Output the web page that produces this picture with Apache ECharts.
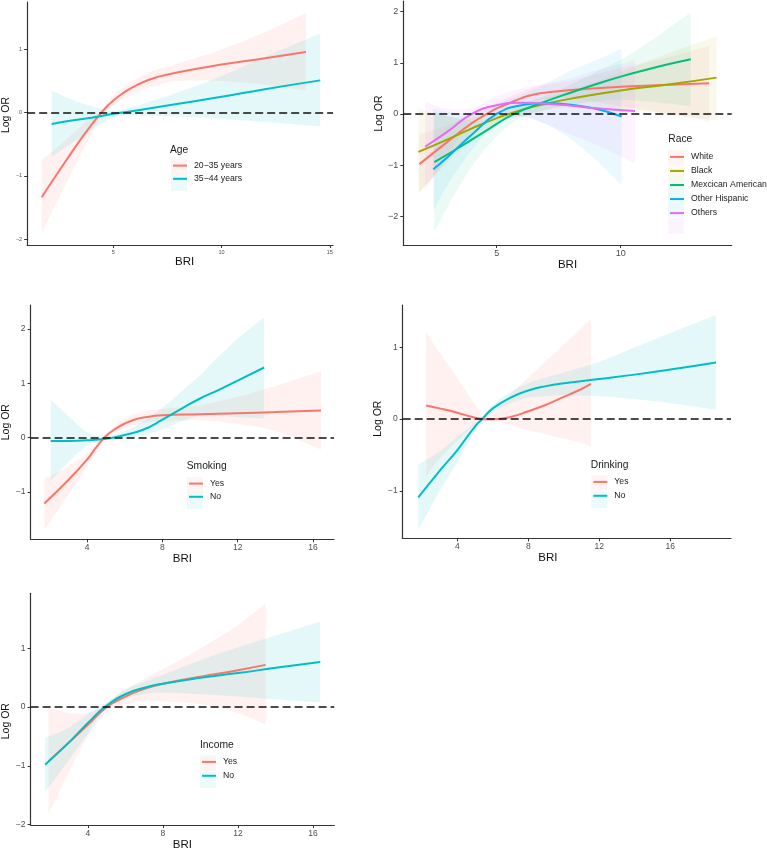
<!DOCTYPE html>
<html><head><meta charset="utf-8">
<script src="https://cdn.jsdelivr.net/npm/echarts@6/dist/echarts.min.js"></script>
<style>html,body{margin:0;padding:0;background:#fff}#c{width:767px;height:852px}</style>
</head><body><div id="c"></div>
<script>
// ---------------- DATA ----------------
// Panel 1: Age
const ageNames = ['20\u221235 years', '35\u221244 years'];
const age1X   = [1.69, 2.5, 3.5, 4.0, 4.5, 5, 5.5, 6, 6.5, 7, 8, 10, 12, 13.9];
const age1Fit = [-1.34, -0.92, -0.42, -0.19, 0.02, 0.19, 0.32, 0.42, 0.5, 0.56, 0.64, 0.76, 0.86, 0.96];
const age1Lo  = [-1.9, -1.34, -0.66, -0.33, -0.04, 0.11, 0.22, 0.31, 0.38, 0.43, 0.5, 0.5, 0.44, 0.35];
const age1Hi  = [-0.75, -0.52, -0.22, -0.08, 0.07, 0.27, 0.41, 0.52, 0.61, 0.68, 0.78, 1.0, 1.27, 1.58];
const age2X   = [2.15, 3, 4, 5, 6, 8, 10, 12, 14.56];
const age2Fit = [-0.18, -0.13, -0.08, -0.02, 0.03, 0.14, 0.25, 0.37, 0.51];
const age2Lo  = [-0.7, -0.5, -0.27, -0.08, -0.05, -0.06, -0.1, -0.15, -0.22];
const age2Hi  = [0.35, 0.22, 0.1, 0.03, 0.1, 0.32, 0.58, 0.88, 1.25];

// Panel 2: Race
const raceNames = ['White', 'Black', 'Mexcican American', 'Other Hispanic', 'Others'];
const whiteX   = [1.88, 3, 4, 4.6, 5, 5.5, 6, 6.5, 7, 8, 10, 12, 13.57];
const whiteFit = [-0.98, -0.55, -0.18, 0, 0.11, 0.21, 0.31, 0.38, 0.42, 0.47, 0.53, 0.57, 0.6];
const whiteLo  = [-1.55, -0.9, -0.35, -0.1, 0.0, 0.1, 0.19, 0.25, 0.29, 0.3, 0.15, 0.0, -0.15];
const whiteHi  = [-0.4, -0.22, -0.02, 0.1, 0.22, 0.33, 0.44, 0.52, 0.57, 0.65, 0.9, 1.12, 1.33];
const blackX   = [1.84, 3, 4, 5, 5.5, 6, 7, 8, 10, 12, 13.87];
const blackFit = [-0.74, -0.5, -0.28, -0.08, 0, 0.08, 0.2, 0.3, 0.46, 0.58, 0.71];
const blackLo  = [-1.55, -0.95, -0.5, -0.2, -0.1, -0.05, 0.08, 0.12, 0.1, -0.02, -0.12];
const blackHi  = [0.1, -0.05, -0.07, 0.04, 0.1, 0.2, 0.33, 0.47, 0.82, 1.2, 1.52];
const mexX     = [2.48, 3.5, 4.5, 5.7, 7, 8, 9, 10, 11, 12, 12.83];
const mexFit   = [-0.94, -0.65, -0.35, 0, 0.25, 0.42, 0.58, 0.73, 0.86, 0.98, 1.07];
const mexLo    = [-2.3, -1.4, -0.7, -0.15, 0.08, 0.18, 0.25, 0.28, 0.25, 0.2, 0.15];
const mexHi    = [0.05, -0.1, -0.12, 0.15, 0.36, 0.58, 0.82, 1.06, 1.36, 1.7, 1.98];
const ohX      = [2.44, 3, 4, 5, 6, 7, 8, 9, 10.04];
const ohFit    = [-1.08, -0.85, -0.4, 0, 0.17, 0.21, 0.18, 0.1, -0.05];
const ohLo     = [-1.9, -1.4, -0.7, -0.2, -0.05, -0.2, -0.5, -0.9, -1.39];
const ohHi     = [0.1, 0.05, 0.0, 0.2, 0.38, 0.6, 0.85, 1.05, 1.28];
const othX     = [2.11, 3, 4, 5, 6, 7, 8, 9, 10.58];
const othFit   = [-0.64, -0.35, 0, 0.17, 0.22, 0.2, 0.16, 0.11, 0.06];
const othLo    = [-1.5, -0.8, -0.15, 0.0, -0.05, -0.2, -0.4, -0.6, -0.96];
const othHi    = [0.25, 0.1, 0.12, 0.35, 0.5, 0.6, 0.7, 0.85, 1.05];

// Panel 3: Smoking
const ynNames = ['Yes', 'No'];
const smkYesX   = [1.72, 3, 4, 4.5, 5, 5.5, 6, 6.5, 7, 8, 10, 12, 14, 16.43];
const smkYesFit = [-1.21, -0.78, -0.4, -0.17, 0.03, 0.16, 0.26, 0.33, 0.37, 0.41, 0.43, 0.45, 0.47, 0.5];
const smkYesLo  = [-1.7, -1.05, -0.53, -0.25, -0.02, 0.09, 0.17, 0.23, 0.27, 0.3, 0.32, 0.25, 0.12, -0.22];
const smkYesHi  = [-0.75, -0.53, -0.28, -0.1, 0.08, 0.23, 0.35, 0.43, 0.48, 0.53, 0.6, 0.75, 0.95, 1.22];
const smkNoX    = [2.06, 3, 4, 5, 6, 7, 8, 9, 10, 11, 12, 13.41];
const smkNoFit  = [-0.06, -0.06, -0.05, -0.02, 0.05, 0.15, 0.33, 0.53, 0.72, 0.88, 1.05, 1.29];
const smkNoLo   = [-0.8, -0.45, -0.15, -0.05, -0.03, 0.05, 0.15, 0.3, 0.4, 0.4, 0.38, 0.35];
const smkNoHi   = [0.7, 0.4, 0.1, 0.02, 0.12, 0.3, 0.55, 0.85, 1.15, 1.5, 1.82, 2.22];

// Panel 4: Drinking
const drkYesX   = [2.24, 3, 4, 5, 5.5, 6, 7, 8, 9, 10, 11, 11.52];
const drkYesFit = [0.19, 0.15, 0.09, 0.02, 0.0, 0.0, 0.03, 0.11, 0.2, 0.31, 0.42, 0.49];
const drkYesLo  = [-0.8, -0.55, -0.3, -0.08, -0.02, -0.03, -0.08, -0.15, -0.21, -0.27, -0.33, -0.38];
const drkYesHi  = [1.2, 0.93, 0.57, 0.2, 0.03, 0.12, 0.35, 0.58, 0.81, 1.04, 1.27, 1.4];
const drkNoX    = [1.8, 3, 4, 5, 5.4, 6, 7, 8, 9, 10, 12, 14, 16, 18.57];
const drkNoFit  = [-1.09, -0.72, -0.43, -0.1, 0, 0.15, 0.3, 0.4, 0.46, 0.5, 0.56, 0.62, 0.69, 0.79];
const drkNoLo   = [-1.55, -1.0, -0.6, -0.15, -0.03, 0.1, 0.22, 0.3, 0.32, 0.33, 0.32, 0.28, 0.22, 0.13];
const drkNoHi   = [-0.63, -0.45, -0.25, -0.05, 0.03, 0.2, 0.38, 0.5, 0.58, 0.65, 0.8, 1.0, 1.2, 1.45];

// Panel 5: Income
const incYesX   = [1.91, 3, 4, 5, 6, 7, 8, 10, 12, 13.47];
const incYesFit = [-0.92, -0.6, -0.3, 0, 0.18, 0.31, 0.4, 0.52, 0.63, 0.72];
const incYesLo  = [-1.82, -1.1, -0.5, -0.08, 0.05, 0.1, 0.1, 0.05, -0.1, -0.3];
const incYesHi  = [0.0, -0.1, -0.1, 0.08, 0.3, 0.48, 0.65, 1.0, 1.4, 1.77];
const incNoX    = [1.72, 3, 4, 4.9, 6, 7, 8, 10, 12, 14, 16.38];
const incNoFit  = [-0.98, -0.6, -0.27, 0, 0.22, 0.33, 0.4, 0.5, 0.58, 0.67, 0.77];
const incNoLo   = [-1.45, -0.9, -0.45, -0.05, 0.14, 0.22, 0.25, 0.22, 0.18, 0.13, 0.08];
const incNoHi   = [-0.52, -0.35, -0.12, 0.05, 0.3, 0.43, 0.55, 0.8, 1.02, 1.22, 1.46];

// Tick labels
const xTicks1 = [5, 10, 15];
const yTicks1 = [-2, -1, 0, 1];
const xTicks2 = [5, 10];
const yTicks2 = [-2, -1, 0, 1, 2];
const xTicks3 = [4, 8, 12, 16];
const yTicks3 = [-1, 0, 1, 2];
const xTicks4 = [4, 8, 12, 16];
const yTicks4 = [-1, 0, 1];
const xTicks5 = [4, 8, 12, 16];
const yTicks5 = [-2, -1, 0, 1];

// ---------------- STYLE ----------------
const C_RED = '#F8766D', C_TEAL = '#00BFC4';
const RACE_COLORS = ['#F8766D', '#A3A500', '#00BF7D', '#00B0F6', '#E76BF3'];
const FONT = 'Liberation Sans, Arial, Helvetica, sans-serif';

function hexA(hex, a) {
  const n = parseInt(hex.slice(1), 16);
  return 'rgba(' + (n >> 16 & 255) + ',' + (n >> 8 & 255) + ',' + (n & 255) + ',' + a + ')';
}
function spline(pts) {
  let d = '';
  const n = pts.length;
  for (let i = 0; i < n - 1; i++) {
    const p0 = pts[Math.max(i - 1, 0)], p1 = pts[i], p2 = pts[i + 1], p3 = pts[Math.min(i + 2, n - 1)];
    const c1 = [p1[0] + (p2[0] - p0[0]) / 6, p1[1] + (p2[1] - p0[1]) / 6];
    const c2 = [p2[0] - (p3[0] - p1[0]) / 6, p2[1] - (p3[1] - p1[1]) / 6];
    d += ' C' + c1[0] + ',' + c1[1] + ' ' + c2[0] + ',' + c2[1] + ' ' + p2[0] + ',' + p2[1];
  }
  return d;
}
function band(gi, X, Lo, Hi, color, alpha) {
  const data = X.map((x, i) => [x, Lo[i], Hi[i]]);
  return {
    type: 'custom', name: 'band', xAxisIndex: gi, yAxisIndex: gi, silent: true, z: 1,
    data: data, encode: { x: 0, y: [1, 2] },
    renderItem: function (params, api) {
      if (params.dataIndex !== 0) return null;
      const top = data.map(d => api.coord([d[0], d[2]]));
      const bot = data.map(d => api.coord([d[0], d[1]])).reverse();
      const path = 'M' + top[0][0] + ',' + top[0][1] + spline(top) +
        ' L' + bot[0][0] + ',' + bot[0][1] + spline(bot) + ' Z';
      return { type: 'path', shape: { pathData: path }, style: { fill: hexA(color, alpha), stroke: null } };
    }
  };
}
function curve(gi, name, X, Y, color, withZero) {
  const s = {
    type: 'line', name: name, xAxisIndex: gi, yAxisIndex: gi, z: 3,
    data: X.map((x, i) => [x, Y[i]]), symbol: 'none', smooth: 0.5,
    lineStyle: { color: color, width: 2 }, itemStyle: { color: color }, silent: true
  };
  if (withZero) {
    s.markLine = {
      silent: true, symbol: ['none', 'none'], label: { show: false }, animation: false,
      lineStyle: { color: '#111', type: [8, 4], width: 1.6 }, data: [{ yAxis: 0 }]
    };
  }
  return s;
}
const fmtMinus = v => String(v).replace('-', '\u2212');
function xAxis(gi, min, max, ticks, fs, gap, pad) {
  return {
    type: 'value', gridIndex: gi, min: min, max: max,
    name: 'BRI', nameLocation: 'middle', nameGap: gap,
    nameTextStyle: { fontSize: 11.5, color: '#111', fontFamily: FONT, padding: pad || 0 },
    axisLine: { show: true, onZero: false, lineStyle: { color: '#333', width: 1.2 } },
    axisTick: { show: true, length: 3, customValues: ticks, lineStyle: { color: '#333', width: 1 } },
    axisLabel: { customValues: ticks, fontSize: fs, color: '#4D4D4D', fontFamily: FONT, margin: 4, formatter: fmtMinus },
    splitLine: { show: false }
  };
}
function yAxis(gi, min, max, ticks, fs, gap, pad) {
  return {
    type: 'value', gridIndex: gi, min: min, max: max,
    name: 'Log OR', nameLocation: 'middle', nameGap: gap, nameRotate: 90,
    nameTextStyle: { fontSize: 10.5, color: '#111', fontFamily: FONT, padding: pad || 0 },
    axisLine: { show: true, onZero: false, lineStyle: { color: '#333', width: 1.2 } },
    axisTick: { show: true, length: 3, customValues: ticks, lineStyle: { color: '#333', width: 1 } },
    axisLabel: { customValues: ticks, fontSize: fs, color: '#4D4D4D', fontFamily: FONT, margin: 5, formatter: fmtMinus },
    splitLine: { show: false }
  };
}
function legend(names, left, top, gap) {
  return {
    show: true, orient: 'vertical', left: left, top: top, itemGap: gap,
    itemWidth: 14, itemHeight: 14, padding: 0, data: names, selectedMode: false,
    itemStyle: { color: 'rgba(0,0,0,0)', opacity: 0, borderWidth: 0 },
    lineStyle: { width: 2 },
    textStyle: { fontSize: 8.7, color: '#1a1a1a', fontFamily: FONT, padding: [0, 0, 0, 2] }
  };
}
function legendTitle(text, left, cy) {
  return { type: 'text', left: left, top: cy - 6, z: 10,
    style: { text: text, fontSize: 10.3, fill: '#1a1a1a', fontFamily: FONT } };
}
function keyBox(left, cy, color) {
  return { type: 'rect', left: left - 1, top: cy - 8, z: 0, silent: true,
    shape: { width: 16, height: 16 }, style: { fill: hexA(color, 0.08) } };
}

const grids = [
  { left: 23.5, top: 2, width: 309.5, height: 243 },
  { left: 403.3, top: 1, width: 328.4, height: 244 },
  { left: 22.7, top: 305, width: 311.3, height: 234.3 },
  { left: 402.7, top: 305, width: 328.3, height: 233.3 },
  { left: 24.3, top: 593.3, width: 310, height: 234 }
];

const series = [
  band(0, age1X, age1Lo, age1Hi, C_RED, 0.1),
  band(0, age2X, age2Lo, age2Hi, C_TEAL, 0.1),
  curve(0, ageNames[0], age1X, age1Fit, C_RED, true),
  curve(0, ageNames[1], age2X, age2Fit, C_TEAL, false),

  band(1, whiteX, whiteLo, whiteHi, RACE_COLORS[0], 0.08),
  band(1, blackX, blackLo, blackHi, RACE_COLORS[1], 0.08),
  band(1, mexX, mexLo, mexHi, RACE_COLORS[2], 0.08),
  band(1, ohX, ohLo, ohHi, RACE_COLORS[3], 0.08),
  band(1, othX, othLo, othHi, RACE_COLORS[4], 0.08),
  curve(1, raceNames[0], whiteX, whiteFit, RACE_COLORS[0], true),
  curve(1, raceNames[1], blackX, blackFit, RACE_COLORS[1], false),
  curve(1, raceNames[2], mexX, mexFit, RACE_COLORS[2], false),
  curve(1, raceNames[3], ohX, ohFit, RACE_COLORS[3], false),
  curve(1, raceNames[4], othX, othFit, RACE_COLORS[4], false),

  band(2, smkYesX, smkYesLo, smkYesHi, C_RED, 0.1),
  band(2, smkNoX, smkNoLo, smkNoHi, C_TEAL, 0.1),
  curve(2, ynNames[0], smkYesX, smkYesFit, C_RED, true),
  curve(2, ynNames[1], smkNoX, smkNoFit, C_TEAL, false),

  band(3, drkYesX, drkYesLo, drkYesHi, C_RED, 0.1),
  band(3, drkNoX, drkNoLo, drkNoHi, C_TEAL, 0.1),
  curve(3, ynNames[0], drkYesX, drkYesFit, C_RED, true),
  curve(3, ynNames[1], drkNoX, drkNoFit, C_TEAL, false),

  band(4, incYesX, incYesLo, incYesHi, C_RED, 0.1),
  band(4, incNoX, incNoLo, incNoHi, C_TEAL, 0.1),
  curve(4, ynNames[0], incYesX, incYesFit, C_RED, true),
  curve(4, ynNames[1], incNoX, incNoFit, C_TEAL, false)
];

const option = {
  animation: false,
  backgroundColor: '#fff',
  grid: grids,
  xAxis: [
    xAxis(0, 1.02, 15.15, xTicks1, 5.5, 6, [0, 0, 0, 9]),
    xAxis(1, 1.23, 14.48, xTicks2, 9, 13),
    xAxis(2, 0.99, 17.12, xTicks3, 8.5, 11),
    xAxis(3, 0.92, 19.42, xTicks4, 8.5, 10, [0, 38, 0, 0]),
    xAxis(4, 0.95, 17.13, xTicks5, 8.5, 12)
  ],
  yAxis: [
    yAxis(0, -2.095, 1.75, yTicks1, 5.5, 8, [0, 0, 0, 17]),
    yAxis(1, -2.56, 2.207, yTicks2, 9, 9, [0, 0, 0, 19]),
    yAxis(2, -1.87, 2.44, yTicks3, 8.5, 10.5),
    yAxis(3, -1.66, 1.59, yTicks4, 8.5, 8, [0, 0, 0, 6]),
    yAxis(4, -2.01, 1.94, yTicks5, 8.5, 11, [0, 24, 0, 0])
  ],
  legend: [
    legend(ageNames, 172, 160, 2),
    legend(raceNames, 669, 151.3, 2.85),
    legend(ynNames, 188, 478, 2),
    legend(ynNames, 592.3, 476.3, 2.7),
    legend(ynNames, 201, 756.3, 2.7)
  ],
  graphic: [
    legendTitle('Age', 170, 150.7),
    keyBox(172, 167, C_RED), keyBox(172, 183, C_TEAL),
    legendTitle('Race', 668.3, 140),
    keyBox(669, 158.3, RACE_COLORS[0]), keyBox(669, 175.15, RACE_COLORS[1]), keyBox(669, 192, RACE_COLORS[2]),
    keyBox(669, 208.85, RACE_COLORS[3]), keyBox(669, 225.7, RACE_COLORS[4]),
    legendTitle('Smoking', 186.7, 466.7),
    keyBox(188, 485, C_RED), keyBox(188, 501, C_TEAL),
    legendTitle('Drinking', 590.7, 465.7),
    keyBox(592.3, 483.3, C_RED), keyBox(592.3, 500, C_TEAL),
    legendTitle('Income', 200, 746),
    keyBox(201, 763.3, C_RED), keyBox(201, 780, C_TEAL)
  ],
  series: series
};

const chart = echarts.init(document.getElementById('c'), null, { renderer: 'canvas' });
chart.setOption(option);
</script>
</body></html>
